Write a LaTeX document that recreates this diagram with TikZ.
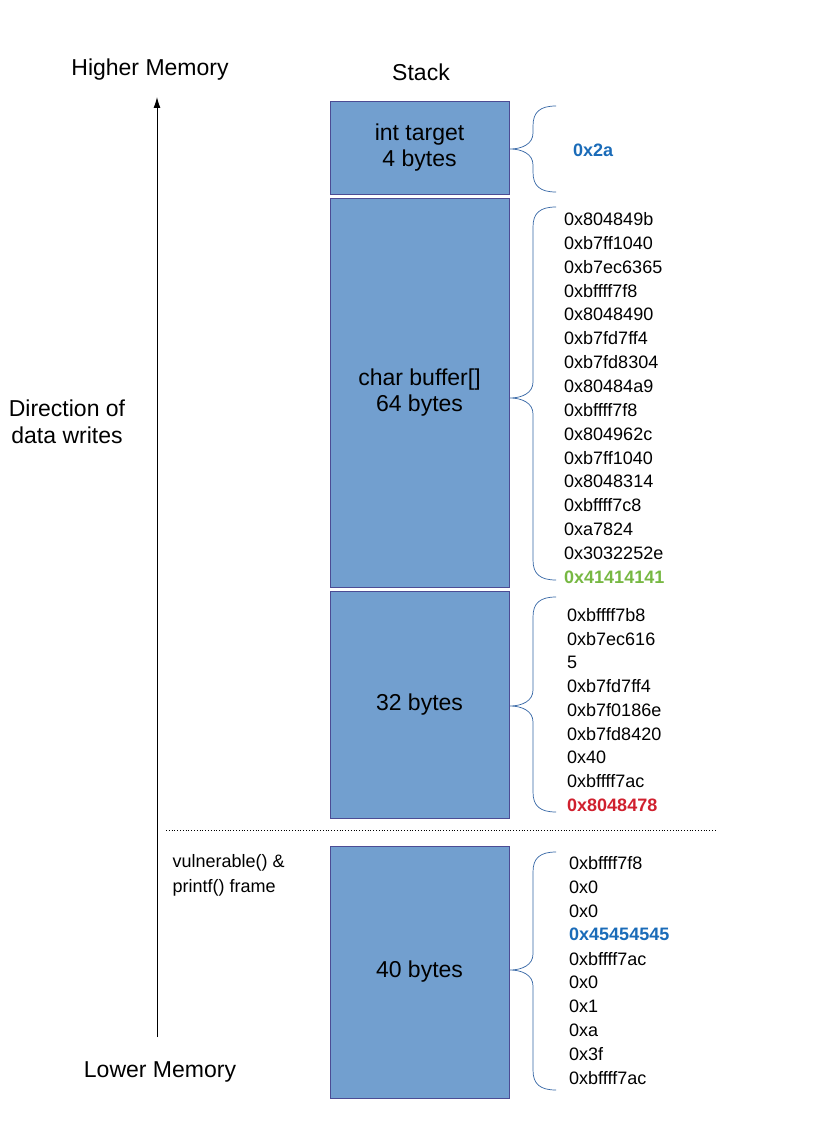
\documentclass[tikz,border=0pt]{standalone}
\usepackage{fontspec}
\setmainfont{Liberation Sans}
\usetikzlibrary{arrows.meta}
\begin{document}
\begin{tikzpicture}[x=1pt,y=-1pt,
  mem/.style={draw=blue!40!black!70,fill=boxblue,line width=0.8pt,inner sep=0pt,font=\fontsize{23}{26}\selectfont,align=center},
  hex/.style={anchor=west,font=\fontsize{18}{20}\selectfont,inner sep=0pt},
  lbl/.style={font=\fontsize{23}{27}\selectfont,align=center},
  br/.style={draw=braceblue,line width=0.7pt}]
\definecolor{boxblue}{HTML}{729FCF}
\definecolor{braceblue}{HTML}{3465A4}
\definecolor{hblue}{HTML}{1A6BB8}
\definecolor{hgreen}{HTML}{77B843}
\definecolor{hred}{HTML}{D0202E}
\useasboundingbox (0,0) rectangle (816,1134);
\node[mem,minimum width=179pt,minimum height=93pt] (b1) at (419.5,147.5) {int target\\4 bytes};
\node[mem,minimum width=179pt,minimum height=389pt] (b2) at (419.5,392.5) {char buffer[]\\64 bytes};
\node[mem,minimum width=179pt,minimum height=227pt] (b3) at (419.5,704.5) {32 bytes};
\node[mem,minimum width=179pt,minimum height=252pt] (b4) at (419.5,972) {40 bytes};
\foreach \ya/\yb/\t in {106/192/149, 207/580/398, 597/812/706, 852/1090/970}{
  \draw[br] (556,\ya) .. controls (540,\ya) and (533,\ya+6) .. (533,\ya+20)
    -- (533,\t-16) .. controls (533,\t-5) and (522,\t) .. (510,\t)
    .. controls (522,\t) and (533,\t+5) .. (533,\t+16)
    -- (533,\yb-20) .. controls (533,\yb-6) and (540,\yb) .. (556,\yb);
}
\node[hex,font=\fontsize{18}{20}\selectfont\bfseries,text=hblue] (h0) at (573,150) {0x2a};
\foreach \s [count=\i from 0] in {0x804849b,0xb7ff1040,0xb7ec6365,0xbffff7f8,0x8048490,0xb7fd7ff4,0xb7fd8304,0x80484a9,0xbffff7f8,0x804962c,0xb7ff1040,0x8048314,0xbffff7c8,0xa7824,0x3032252e}
  \node[hex] (a\i) at (564,219+23.87*\i) {\s};
\node[hex,font=\fontsize{18}{20}\selectfont\bfseries,text=hgreen] (a15) at (564,577) {0x41414141};
\foreach \s [count=\i from 0] in {0xbffff7b8,0xb7ec616,5,0xb7fd7ff4,0xb7f0186e,0xb7fd8420,0x40,0xbffff7ac}
  \node[hex] (c\i) at (567,615+23.75*\i) {\s};
\node[hex,font=\fontsize{18}{20}\selectfont\bfseries,text=hred] (c8) at (567,805) {0x8048478};
\foreach \s/\c [count=\i from 0] in {0xbffff7f8/black,0x0/black,0x0/black,0x45454545/hblue,0xbffff7ac/black,0x0/black,0x1/black,0xa/black,0x3f/black,0xbffff7ac/black}
  \node[hex,text=\c] (d\i) at (569,863+23.9*\i) {\ifnum\i=3 \bfseries\fi\s};
\coordinate (dl) at (166,830); \coordinate (dr) at (715,830);
\draw[dotted,line width=0.8pt] (dl) -- (dr);
\coordinate (alow) at (157,1037); \coordinate (ahigh) at (157,97);
\draw[line width=0.9pt,-{Latex[length=11pt,width=7pt]}] (alow) -- (ahigh);
\node[lbl] (hm) at (150,70) {Higher Memory};
\node[lbl] (st) at (421,72) {Stack};
\node[lbl] (dw) at (67,422) {Direction of\\data writes};
\node[lbl] (lm) at (160,1072) {Lower Memory};
\node[anchor=north west,align=left,font=\fontsize{18}{25}\selectfont] (vf) at (169,851) {vulnerable() \&\\printf() frame};
\end{tikzpicture}
\end{document}
